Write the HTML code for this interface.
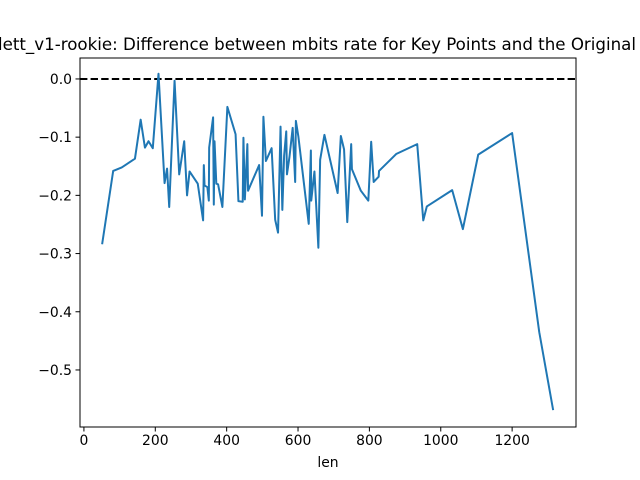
<!DOCTYPE html>
<html><head><meta charset="utf-8"><style>
html,body{margin:0;padding:0;background:#fff;overflow:hidden;}
svg{display:block;font-family:"DejaVu Sans","Liberation Sans",sans-serif;}
</style></head><body>
<svg id="chart" width="640" height="480" viewBox="0 0 640 480">
<rect width="640" height="480" fill="#fff"/>
<text x="636" y="50" text-anchor="end" font-size="16.67">Bartlett_v1-rookie: Difference between mbits rate for Key Points and the Original</text>
<g id="plot"></g>
<text x="328" y="467" text-anchor="middle" font-size="13.9">len</text>
</svg>
<script>
const lens = [51,82,106,143,159,171,181,193,209,226,233,239,254,267,281,289,296,319,334,336,338,346,350,351,362,364,366,371,376,388,402,425,433,445,447,451,458,460,491,499,503,510,526,536,544,551,556,561,567,569,576,585,592,594,601,630,636,637,646,657,662,674,711,720,729,738,749,751,776,797,805,812,826,827,875,934,951,961,1032,1062,1105,1200,1276,1315];
const diffs = [-0.284,-0.158,-0.152,-0.137,-0.070,-0.118,-0.107,-0.119,0.009,-0.179,-0.154,-0.220,-0.003,-0.164,-0.107,-0.200,-0.159,-0.180,-0.243,-0.148,-0.183,-0.186,-0.209,-0.118,-0.066,-0.216,-0.107,-0.180,-0.181,-0.220,-0.048,-0.095,-0.210,-0.211,-0.101,-0.207,-0.112,-0.192,-0.148,-0.235,-0.065,-0.141,-0.119,-0.242,-0.264,-0.082,-0.225,-0.132,-0.090,-0.164,-0.134,-0.084,-0.177,-0.072,-0.099,-0.249,-0.123,-0.209,-0.159,-0.290,-0.139,-0.096,-0.196,-0.098,-0.121,-0.246,-0.112,-0.155,-0.192,-0.209,-0.108,-0.177,-0.168,-0.158,-0.129,-0.112,-0.243,-0.219,-0.191,-0.258,-0.130,-0.093,-0.435,-0.569];
const xTicks = [0,200,400,600,800,1000,1200];
const yTicks = [0.0,-0.1,-0.2,-0.3,-0.4,-0.5];
const baseline = [0];

const L=80,R=576,T=58,B=427;
const X0=-11,X1=1379,Y0=-0.598,Y1=0.036;
const sx=v=>L+(v-X0)/(X1-X0)*(R-L);
const sy=v=>B-(v-Y0)/(Y1-Y0)*(B-T);
const NS="http://www.w3.org/2000/svg";
const g=document.getElementById('plot');
function mk(t,a){const e=document.createElementNS(NS,t);for(const k in a)e.setAttribute(k,a[k]);g.appendChild(e);return e;}

const bl=mk('line',{x1:L,x2:R,y1:sy(baseline[0]),y2:sy(baseline[0]),stroke:'#000','stroke-width':2,'stroke-dasharray':'7.4,3.2'});



let d='';
lens.forEach((v,i)=>{d+=(i?'L':'M')+sx(v).toFixed(2)+','+sy(diffs[i]).toFixed(2);});
const ln=mk('path',{d:d,fill:'none',stroke:'#1f77b4','stroke-width':2,'stroke-linejoin':'round'});



const fr=mk('rect',{x:L,y:T,width:R-L,height:B-T,fill:'none',stroke:'#000','stroke-width':1});



xTicks.forEach(v=>{
  const t=mk('line',{x1:sx(v),x2:sx(v),y1:B,y2:B+4.5,stroke:'#000','stroke-width':1});
  
  
  const l=mk('text',{x:sx(v),y:B+18,'text-anchor':'middle','font-size':13.9});
  l.textContent=v;
  
  
});
yTicks.forEach(v=>{
  const t=mk('line',{x1:L-4.5,x2:L,y1:sy(v),y2:sy(v),stroke:'#000','stroke-width':1});
  
  
  const l=mk('text',{x:L-8,y:sy(v)+5,'text-anchor':'end','font-size':13.9});
  l.textContent=(v===0?'0.0':'\u2212'+Math.abs(v).toFixed(1));
  
  
});
</script>
</body></html>
